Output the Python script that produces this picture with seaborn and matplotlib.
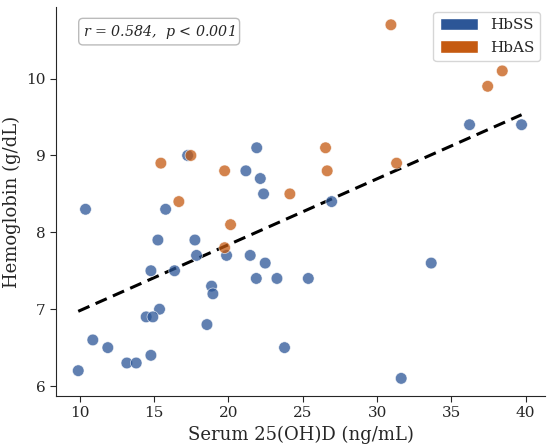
import numpy as np
import pandas as pd
import matplotlib
matplotlib.use("Agg")
import matplotlib.pyplot as plt
from matplotlib.patches import Patch
import seaborn as sns

# HbSS
ss_vit = [21.9, 17.25, 21.17, 22.14, 22.36, 10.38, 15.77, 15.25, 17.74, 17.85, 19.87,
          21.46, 22.47, 14.78, 16.37, 21.87, 23.26, 25.37, 18.86, 18.95, 15.36, 14.46,
          14.91, 18.55, 10.87, 11.88, 23.77, 14.78, 13.16, 13.79, 9.89, 36.22, 39.72,
          26.94, 33.64, 31.62]
ss_hb = [9.1, 9.0, 8.8, 8.7, 8.5, 8.3, 8.3, 7.9, 7.9, 7.7, 7.7,
         7.7, 7.6, 7.5, 7.5, 7.4, 7.4, 7.4, 7.3, 7.2, 7.0, 6.9,
         6.9, 6.8, 6.6, 6.5, 6.5, 6.4, 6.3, 6.3, 6.2, 9.4, 9.4,
         8.4, 7.6, 6.1]
# HbAS
as_vit = [15.45, 17.47, 19.74, 24.13, 16.66, 20.14, 19.74, 30.93, 38.42, 37.44, 26.53, 26.64, 31.31]
as_hb = [8.9, 9.0, 8.8, 8.5, 8.4, 8.1, 7.8, 10.7, 10.1, 9.9, 9.1, 8.8, 8.9]

groups = ["HbSS", "HbAS"]
colors = {"HbSS": "#2c5697", "HbAS": "#c55a11"}
stat_text = r"$r$ = 0.584,  $p$ < 0.001"

df = pd.DataFrame({
    "vit": ss_vit + as_vit,
    "hb": ss_hb + as_hb,
    "group": ["HbSS"] * len(ss_vit) + ["HbAS"] * len(as_vit),
})

sns.set_style("ticks")
plt.rcParams["font.family"] = ["DejaVu Serif"]
plt.rcParams["mathtext.fontset"] = "dejavuserif"

fig, ax = plt.subplots(figsize=(5.5, 4.45), dpi=100)
fig.subplots_adjust(left=0.102, right=0.991, top=0.984, bottom=0.110)

sns.scatterplot(data=df, x="vit", y="hb", hue="group", palette=colors,
                s=70, alpha=0.75, edgecolor="white", linewidth=0.5,
                legend=False, ax=ax, zorder=3)
sns.regplot(data=df, x="vit", y="hb", scatter=False, ci=None, ax=ax,
            line_kws=dict(color="black", linestyle="--", linewidth=2.2, dashes=(4, 2.2)))

ax.set_xlim(8.4, 41.3)
ax.set_ylim(5.87, 10.93)
ax.set_xticks([10, 15, 20, 25, 30, 35, 40])
ax.set_yticks([6, 7, 8, 9, 10])
ax.set_xlabel("Serum 25(OH)D (ng/mL)", fontsize=13)
ax.set_ylabel("Hemoglobin (g/dL)", fontsize=13)
ax.tick_params(labelsize=11, length=4)
sns.despine(ax=ax)

ax.text(0.055, 0.937, stat_text, transform=ax.transAxes, fontsize=10.3,
        style="italic", va="center", ha="left",
        bbox=dict(boxstyle="round,pad=0.3", facecolor="white", edgecolor="#bbbbbb"))

handles = [Patch(facecolor=colors[g], label=g) for g in groups]
ax.legend(handles=handles, loc="upper right", fontsize=11, frameon=True,
          handlelength=2.5, handleheight=0.9, borderaxespad=0.3)

fig.savefig("out.png", dpi=100)
